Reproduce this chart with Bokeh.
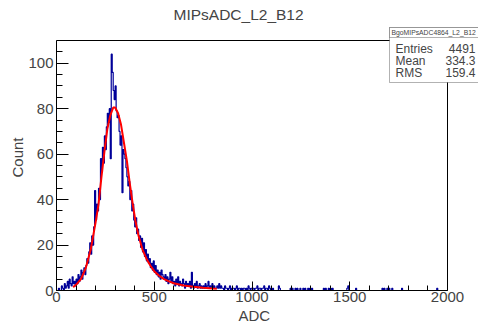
from bokeh.plotting import figure
from bokeh.models import Range1d, FixedTicker, Label, BoxAnnotation, Title
from bokeh.embed import file_html
from bokeh.resources import INLINE
import numpy as np

# ---------------- data ----------------
title_text = "MIPsADC_L2_B12"
x_label = "ADC"
y_label = "Count"
hist_name = "BgoMIPsADC4864_L2_B12"
stats_names = ["Entries", "Mean", "RMS"]
stats_values = ["4491", "334.3", "159.4"]

X_MAX = 2000
Y_MAX = 110
bin_low = 0
bin_width = 5
counts = [
    0, 0, 1, 0, 0, 2, 1, 0, 3, 1,          # 0-50
    2, 4, 1, 5, 3, 2, 6, 3, 4, 2,          # 50-100
    5, 3, 7, 4, 6, 9, 5, 8, 10, 7,         # 100-150
    11, 14, 12, 17, 21, 16, 24, 20, 28, 44,  # 150-200
    31, 38, 35, 45, 40, 58, 52, 63, 56, 68,  # 200-250
    62, 72, 78, 74, 80, 58, 104, 96, 88, 84,  # 250-300
    90, 79, 76, 77, 70, 64, 68, 43, 62, 60,  # 300-350
    58, 54, 50, 46, 48, 40, 44, 35, 38, 31,  # 350-400
    28, 32, 25, 27, 22, 24, 19, 23, 17, 21,  # 400-450
    15, 18, 13, 16, 12, 14, 10, 12, 9, 13,   # 450-500
    8, 11, 7, 9, 6, 8, 5, 9, 7, 6,           # 500-550
    5, 7, 4, 6, 3, 5, 8, 4, 6, 3,            # 550-600
    4, 2, 5, 3, 6, 2, 4, 3, 2, 5,            # 600-650
    3, 1, 4, 2, 3, 2, 4, 1, 8, 2,            # 650-700
    1, 3, 2, 4, 1, 2, 3, 1, 2, 1,            # 700-750
    2, 1, 3, 1, 2, 4, 1, 2, 1, 3,            # 750-800
    1, 2, 1, 1, 2, 1, 3, 1, 2, 1,            # 800-850
    1, 0, 2, 1, 1, 0, 1, 2, 0, 1,            # 850-900
    1, 1, 0, 1, 2, 0, 1, 1, 0, 1,            # 900-950
    0, 1, 1, 0, 1, 0, 2, 1, 0, 1,            # 950-1000
    1, 1, 0, 1, 1, 2, 0, 1, 1, 0,            # 1000-1050
    1, 1, 2, 0, 1, 1, 0, 2, 1, 0,            # 1050-1100
    0, 1, 0, 0, 0, 0, 0, 2, 1, 0,            # 1100-1150
    0, 0, 0, 0, 0, 0, 0, 0, 0, 1,            # 1150-1200
    0, 1, 0, 0, 1, 0, 1, 0, 0, 1,            # 1200-1250
    0, 0, 1, 0, 1, 0, 0, 1, 0, 1,            # 1250-1300
    0, 1, 0, 0, 0, 0, 0, 0, 0, 0,            # 1300-1350
    0, 0, 0, 1, 0, 1, 0, 0, 1, 0,            # 1350-1400
    1, 0, 1, 0, 0, 0, 0, 0, 0, 0,            # 1400-1450
    0, 0, 0, 0, 0, 0, 0, 1, 2, 0,            # 1450-1500
    0, 0, 0, 0, 0, 0, 1, 0, 0, 0,            # 1500-1550
    0, 0, 0, 0, 0, 0, 0, 0, 0, 0,            # 1550-1600
    0, 0, 0, 0, 0, 0, 0, 0, 0, 0,            # 1600-1650
    0, 0, 0, 1, 0, 1, 0, 0, 1, 0,            # 1650-1700
    1, 0, 0, 1, 0, 0, 0, 0, 0, 0,            # 1700-1750
    0, 0, 0, 1, 0, 0, 0, 0, 0, 0,            # 1750-1800
    0, 0, 0, 0, 0, 0, 0, 0, 0, 0,            # 1800-1850
    0, 0, 0, 0, 0, 0, 0, 0, 0, 0,            # 1850-1900
    0, 0, 0, 0, 0, 0, 0, 0, 0, 1,            # 1900-1950
    0, 0, 0, 0, 0, 0, 0, 0, 0, 0,            # 1950-2000
]

fit_x = [85, 100, 125, 150, 175, 200, 215, 230, 245, 260, 275, 290, 300,
         315, 330, 345, 360, 375, 390, 405, 420, 440, 460, 480, 500, 525,
         550, 575, 600, 650, 700, 750, 800, 820]
fit_y = [1.5, 2.5, 5, 10, 18, 30, 38, 50, 61, 71, 77, 80.5, 80.5,
         78, 73, 65, 57, 47, 38, 30, 24, 18, 14, 11, 8.5, 6.5,
         5, 4, 3.2, 2.2, 1.6, 1.2, 0.9, 0.8]

x_ticks = [0, 500, 1000, 1500, 2000]
x_minor = list(range(0, 2001, 100))
y_ticks = [0, 20, 40, 60, 80, 100]
y_minor = list(range(0, 111, 5))

FONT = "Liberation Sans"

# ---------------- layout (pixels) ----------------
W, H = 478, 326
FL, FR, FT, FB = 56, 478, 24, 290       # plotting frame
AX_RIGHT, AX_TOP = 447, 40              # where x=X_MAX and y=Y_MAX sit
x_end = X_MAX * (FR - FL) / (AX_RIGHT - FL)
y_end = Y_MAX * (FB - FT) / (FB - AX_TOP)

p = figure(width=W, height=H, output_backend="svg", toolbar_location=None,
           x_range=Range1d(0, x_end), y_range=Range1d(0, y_end),
           min_border_left=FL, min_border_right=W - FR, min_border_top=FT,
           min_border_bottom=H - FB)
p.background_fill_color = "white"
p.border_fill_color = "white"
p.outline_line_color = None
p.grid.visible = False

p.title.text = title_text
p.title.align = "left"
p.title.offset = 117
p.title.text_font = FONT
p.title.text_font_size = "15.5px"
p.title.text_font_style = "normal"
p.title.standoff = 3

for ax in (p.xaxis[0], p.yaxis[0]):
    ax.major_label_text_font = FONT
    ax.major_label_text_font_size = "15px"
    ax.major_tick_out = 0
    ax.minor_tick_out = 0
    ax.axis_line_color = "black"
    ax.major_tick_line_color = "black"
    ax.minor_tick_line_color = "black"

p.xaxis.ticker = FixedTicker(ticks=x_ticks, minor_ticks=x_minor)
p.yaxis.ticker = FixedTicker(ticks=y_ticks, minor_ticks=y_minor)
p.xaxis.bounds = (0, X_MAX)
p.yaxis.bounds = (0, Y_MAX)
p.xaxis.major_tick_in = 9
p.xaxis.minor_tick_in = 5
p.yaxis.major_tick_in = 12
p.yaxis.minor_tick_in = 6
p.xaxis.major_label_standoff = 1
p.yaxis.major_label_standoff = 3

# axis titles (side titles, centred on the visible frame)
xt = Title(text=x_label, align="left", offset=182, text_font=FONT,
           text_font_size="15px", text_font_style="normal", standoff=1)
p.add_layout(xt, "below")
yt = Title(text=y_label, align="center", offset=-10, text_font=FONT,
           text_font_size="15px", text_font_style="normal", standoff=0)
p.add_layout(yt, "left")

# frame top / right edges
p.line([0, X_MAX, X_MAX], [Y_MAX, Y_MAX, 0], line_color="black", line_width=1)

# histogram
edges = bin_low + bin_width * np.arange(len(counts) + 1)
step_x = list(edges)
step_y = list(counts) + [counts[-1]]
p.step(step_x, step_y, mode="after", line_color="#000099", line_width=1.2)

# fit
p.line(fit_x, fit_y, line_color="#ff0000", line_width=2)

# ---------------- stats box (canvas pixel units) ----------------
BX0, BX1 = 389, 500
BY0, BYH, BY1 = 27, 37, 82
for top, bottom in ((BY0, BY1), (BY0, BYH)):
    p.add_layout(BoxAnnotation(left=BX0, right=BX1, top=top, bottom=bottom,
                               left_units="canvas", right_units="canvas",
                               top_units="canvas", bottom_units="canvas",
                               fill_color="white", fill_alpha=1.0,
                               line_color="black", line_width=1,
                               level="overlay"))
p.add_layout(Label(x=BX0 + 2, y=(BY0 + BYH) / 2, x_units="canvas", y_units="canvas",
                   text=hist_name, text_font=FONT, text_font_size="6.8px",
                   text_baseline="middle", text_align="left", level="overlay"))
row_y = [48, 60, 72]
for name, val, yy in zip(stats_names, stats_values, row_y):
    p.add_layout(Label(x=BX0 + 6, y=yy, x_units="canvas", y_units="canvas",
                       text=name, text_font=FONT, text_font_size="12px",
                       text_baseline="middle", text_align="left", level="overlay"))
    p.add_layout(Label(x=475, y=yy, x_units="canvas", y_units="canvas",
                       text=val, text_font=FONT, text_font_size="12px",
                       text_baseline="middle", text_align="right", level="overlay"))

open("out.html", "w").write(file_html(p, INLINE))
